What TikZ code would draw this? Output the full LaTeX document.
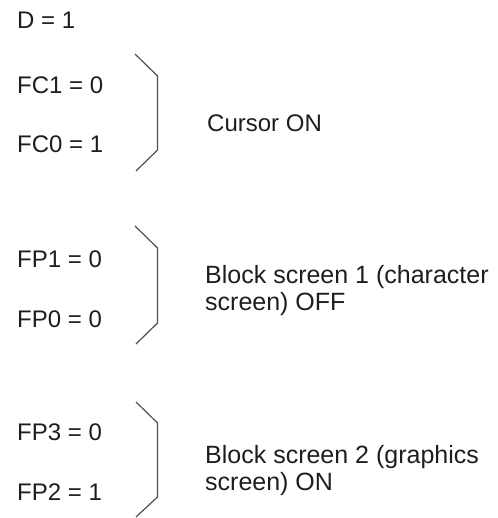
\documentclass[tikz,border=0pt]{standalone}
\usepackage{fontspec}
\setmainfont{Liberation Sans}
\usepackage{xcolor}
\definecolor{txtgray}{HTML}{1E1E1E}
\definecolor{linegray}{HTML}{505050}
\usetikzlibrary{positioning}

\begin{document}
\begin{tikzpicture}[x=1pt,y=-1pt,
    bit node/.style={anchor=base west,inner sep=0pt,text=txtgray,font=\fontsize{24}{27}\selectfont},
    note node/.style={bit node,align=left,font=\fontsize{25}{27}\selectfont},
    bracket line/.style={draw=linegray,line width=1.2pt,line join=miter}]

              \useasboundingbox (0,0) rectangle (497,518);

              % Define the bit values
              \node[bit node] (D) at (17,29) {D = 1};
              \node[bit node] (FC1) at (17,94) {FC1 = 0};
              \node[bit node] (FC0) at (17,153) {FC0 = 1};
              \node[bit node] (FP1) at (17,267) {FP1 = 0};
              \node[bit node] (FP0) at (17,327) {FP0 = 0};
              \node[bit node] (FP3) at (17,440) {FP3 = 0};
              \node[bit node] (FP2) at (17,500) {FP2 = 1};

              % Define the meanings (base is on the last line)
              \node[bit node] (cursor) at (207,132) {Cursor ON};
              \node[note node] (block1) at (205,310) {Block screen 1 (character\\screen) OFF};
              \node[note node] (block2) at (205,490) {Block screen 2 (graphics\\screen) ON};

              % Draw the brackets
              \draw[bracket line] (135,54) -- (157.5,76) -- (157.5,150) -- (136,171);
              \draw[bracket line] (135,226) -- (157.5,248) -- (157.5,323) -- (136,344);
              \draw[bracket line] (136,402) -- (157.5,423) -- (157.5,497) -- (136,517);
            \end{tikzpicture}
\end{document}
